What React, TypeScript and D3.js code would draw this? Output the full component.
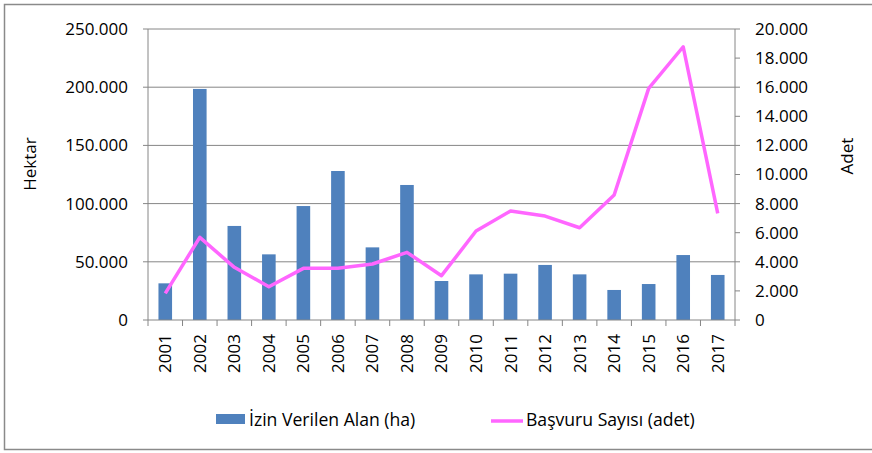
import React from "react";
import * as d3 from "d3";

const years = ["2001","2002","2003","2004","2005","2006","2007","2008","2009","2010","2011","2012","2013","2014","2015","2016","2017"];
const areaHa = [31500, 198500, 80800, 56400, 97900, 128000, 62400, 116000, 33500, 39200, 39800, 47300, 39200, 25800, 30900, 55800, 38700];
const applications = [1835, 5680, 3620, 2290, 3550, 3560, 3850, 4650, 3045, 6115, 7490, 7145, 6340, 8590, 15920, 18780, 7330];
const leftTicks = [0, 50000, 100000, 150000, 200000, 250000];
const rightTicks = [0, 2000, 4000, 6000, 8000, 10000, 12000, 14000, 16000, 18000, 20000];
const barLabel = "İzin Verilen Alan (ha)";
const lineLabel = "Başvuru Sayısı (adet)";

const fmt = (v: number) => (v === 0 ? "0" : d3.format(",")(v).replace(/,/g, "."));

export default function App() {
  const W = 872, H = 453;
  const left = 148, right = 735, top = 29, bottom = 320;
  const xb = d3.scaleBand<string>().domain(years).range([left, right]);
  const yL = d3.scaleLinear().domain([0, 250000]).range([bottom, top]);
  const yR = d3.scaleLinear().domain([0, 20000]).range([bottom, top]);
  const line = d3.line<number>().x((_, i) => xb(years[i])! + xb.bandwidth() / 2).y((d) => yR(d));
  const font = "'Open Sans', sans-serif";
  const grid = "#868686";
  const barW = 13.6;
  return (
    <svg width={W} height={H} style={{ position: "absolute", left: 0, top: 0, display: "block" }} fontFamily={font}>
      <rect x={0} y={0} width={W} height={H} fill="#fff" />
      <rect x={4.5} y={4.5} width={W + 10} height={445} fill="none" stroke="#8a8a8a" strokeWidth={1.5} />
      {leftTicks.map((t) => (
        <g key={t}>
          {t > 0 && <line x1={left} x2={right} y1={yL(t)} y2={yL(t)} stroke={grid} strokeWidth={1} />}
          <line x1={left - 5} x2={left} y1={yL(t)} y2={yL(t)} stroke={grid} />
          <text x={128} y={yL(t)} dy="0.35em" textAnchor="end" fontSize={17} fill="#000">{fmt(t)}</text>
        </g>
      ))}
      {rightTicks.map((t) => (
        <g key={t}>
          <line x1={right} x2={right + 5} y1={yR(t)} y2={yR(t)} stroke={grid} />
          <text x={755} y={yR(t)} dy="0.35em" textAnchor="start" fontSize={17} fill="#000">{fmt(t)}</text>
        </g>
      ))}
      {years.map((yr, i) => (
        <rect key={yr} x={xb(yr)! + xb.bandwidth() / 2 - barW / 2} y={yL(areaHa[i])} width={barW} height={bottom - yL(areaHa[i])} fill="#4F81BD" />
      ))}
      <line x1={left} x2={left} y1={top} y2={bottom} stroke={grid} />
      <line x1={right} x2={right} y1={top} y2={bottom} stroke={grid} />
      <line x1={left} x2={right} y1={bottom} y2={bottom} stroke={grid} />
      {years.concat(["end"]).map((yr, i) => {
        const px = left + i * xb.bandwidth();
        return <line key={"t" + yr} x1={px} x2={px} y1={bottom} y2={bottom + 6} stroke={grid} />;
      })}
      {years.map((yr) => {
        const cx = xb(yr)! + xb.bandwidth() / 2;
        return (
          <text key={"l" + yr} transform={`translate(${cx},${334}) rotate(-90)`} dy="0.35em" textAnchor="end" fontSize={17} fill="#000">{yr}</text>
        );
      })}
      <path d={line(applications) || ""} fill="none" stroke="#FF66FF" strokeWidth={3.5} strokeLinejoin="round" />
      <text transform={`translate(30,164) rotate(-90)`} dy="0.35em" textAnchor="middle" fontSize={17} fill="#000">Hektar</text>
      <text transform={`translate(847,156) rotate(-90)`} dy="0.35em" textAnchor="middle" fontSize={17} fill="#000">Adet</text>
      <rect x={216} y={414} width={29} height={10} fill="#4F81BD" />
      <text x={249} y={420} dy="0.35em" fontSize={17.6} fill="#000">{barLabel}</text>
      <line x1={491} x2={523} y1={421} y2={421} stroke="#FF66FF" strokeWidth={3.5} />
      <text x={526} y={420} dy="0.35em" fontSize={17.6} fill="#000">{lineLabel}</text>
    </svg>
  );
}
